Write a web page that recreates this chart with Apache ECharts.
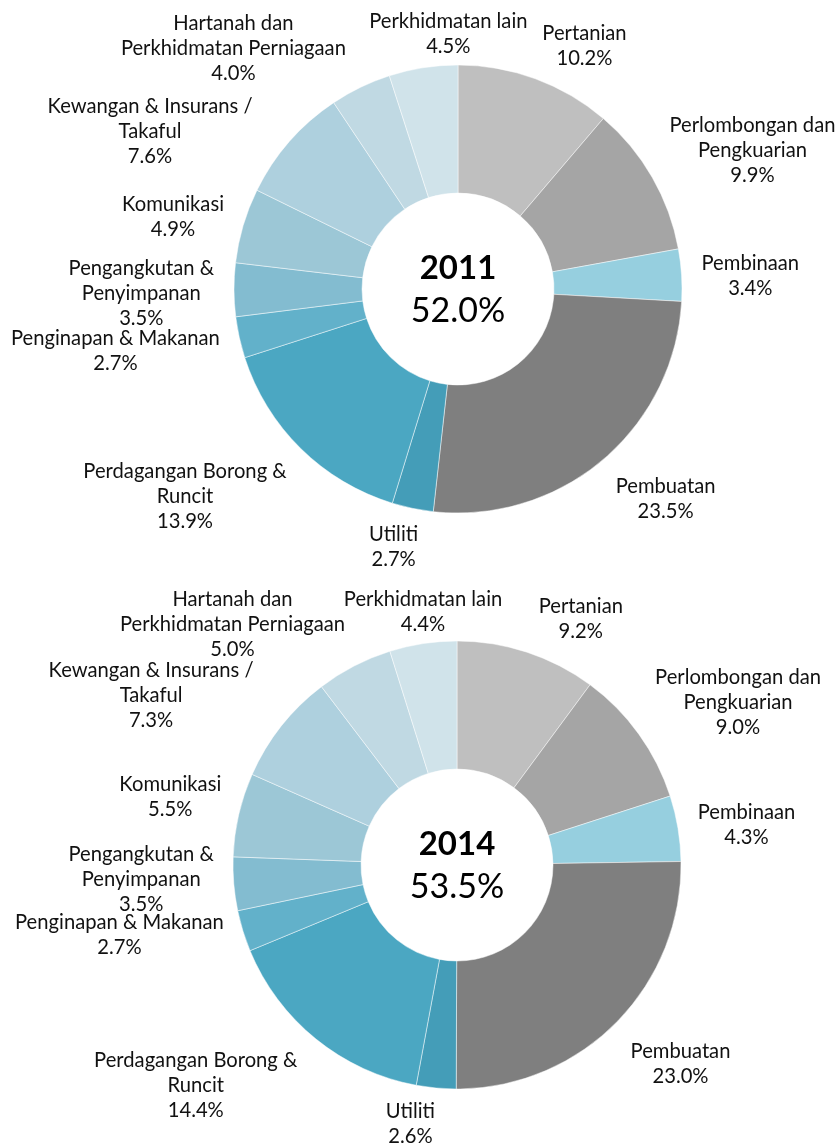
<!DOCTYPE html>
<html><head><meta charset="utf-8">
<script src="https://cdn.jsdelivr.net/npm/echarts@6/dist/echarts.min.js"></script>
<style>html,body{margin:0;padding:0;background:#fff}#c{width:837px;height:1146px}</style>
</head><body><div id="c"></div>
<script>
// ---- data ----
const categories = [
  'Pertanian',
  'Perlombongan dan\nPengkuarian',
  'Pembinaan',
  'Pembuatan',
  'Utiliti',
  'Perdagangan Borong &\nRuncit',
  'Penginapan & Makanan',
  'Pengangkutan &\nPenyimpanan',
  'Komunikasi',
  'Kewangan & Insurans /\nTakaful',
  'Hartanah dan\nPerkhidmatan Perniagaan',
  'Perkhidmatan lain'
];
const values2011 = [10.2, 9.9, 3.4, 23.5, 2.7, 13.9, 2.7, 3.5, 4.9, 7.6, 4.0, 4.5];
const values2014 = [9.2, 9.0, 4.3, 23.0, 2.6, 14.4, 2.7, 3.5, 5.5, 7.3, 5.0, 4.4];
const years = ['2011', '2014'];
const centreTotals = ['52.0%', '53.5%'];

// ---- style / layout ----
const colors = ['#bfbfbf','#a5a5a5','#96cfdf','#7f7f7f','#449db8','#4ba7c2',
                '#62b1ca','#83bcd0','#9cc7d6','#aed0de','#c0d9e3','#d0e3ea'];
const FONT = 'Lato, "Open Sans", sans-serif';
const R_OUT = 224, R_IN = 96;
const GAP_X = 20, GAP_Y = 13, DROP = 4, KX = 3, KY = 1.3;
// extra label shifts (label index -> [dx, dy]) to follow the reference's hand placement
const labelShift = [
  { 4: [0, -3], 9: [-22, 27], 10: [-6, 6], 11: [65, 0] },
  { 0: [8, 0], 3: [0, 6], 4: [-17, -6], 5: [-6, -5], 6: [0, -13], 7: [0, -14],
    8: [2, -12], 9: [-12, 4], 10: [0, 4], 11: [39, 2] }
];
const panels = [
  { cx: 458, cy: 289, values: values2011 },
  { cx: 457, cy: 865, values: values2014 }
];

function midAngles(vals) {
  const sum = vals.reduce((a, b) => a + b, 0);
  let acc = 0;
  return vals.map(v => { const m = (acc + v / 2) / sum * 2 * Math.PI; acc += v; return m; });
}
const clamp = v => Math.max(-1, Math.min(1, v));

const chart = echarts.init(document.getElementById('c'), null, { renderer: 'canvas' });

const series = panels.map((p, si) => ({
  type: 'pie',
  center: [p.cx, p.cy],
  radius: [R_IN, R_OUT],
  startAngle: 90,
  clockwise: true,
  avoidLabelOverlap: false,
  silent: true,
  itemStyle: { borderColor: 'rgba(255,255,255,0.8)', borderWidth: 0.6 },
  label: {
    show: true,
    position: 'outside',
    fontFamily: FONT,
    fontSize: 20.2,
    lineHeight: 25,
    color: '#111',
    formatter: prm => prm.name + '\n' + prm.value.toFixed(1) + '%'
  },
  labelLine: { show: false },
  labelLayout: function (prm) {
    const ang = midAngles(p.values)[prm.dataIndex];
    const s = Math.sin(ang), c = Math.cos(ang);
    const ax = p.cx + (R_OUT + GAP_X) * s;
    const ay = p.cy - (R_OUT + GAP_Y) * c + DROP;
    const w = prm.labelRect.width, h = prm.labelRect.height;
    const sh = labelShift[si][prm.dataIndex] || [0, 0];
    return {
      x: ax + clamp(KX * s) * w / 2 + sh[0],
      y: ay + clamp(-KY * c) * h / 2 + sh[1],
      align: 'center',
      verticalAlign: 'middle'
    };
  },
  data: categories.map((n, i) => ({ name: n, value: p.values[i], itemStyle: { color: colors[i] } }))
}));

const graphic = [];
panels.forEach((p, i) => {
  graphic.push({ type: 'text', x: p.cx, y: p.cy - 21, style: {
    text: years[i], fontFamily: FONT, fontWeight: 'bold', fontSize: 33, fill: '#000',
    textAlign: 'center', textVerticalAlign: 'middle' } });
  graphic.push({ type: 'text', x: p.cx, y: p.cy + 22, style: {
    text: centreTotals[i], fontFamily: FONT, fontSize: 34, fill: '#000',
    textAlign: 'center', textVerticalAlign: 'middle' } });
});

chart.setOption({
  backgroundColor: '#fff',
  animation: false,
  series: series,
  graphic: graphic
});
</script>
</body></html>
